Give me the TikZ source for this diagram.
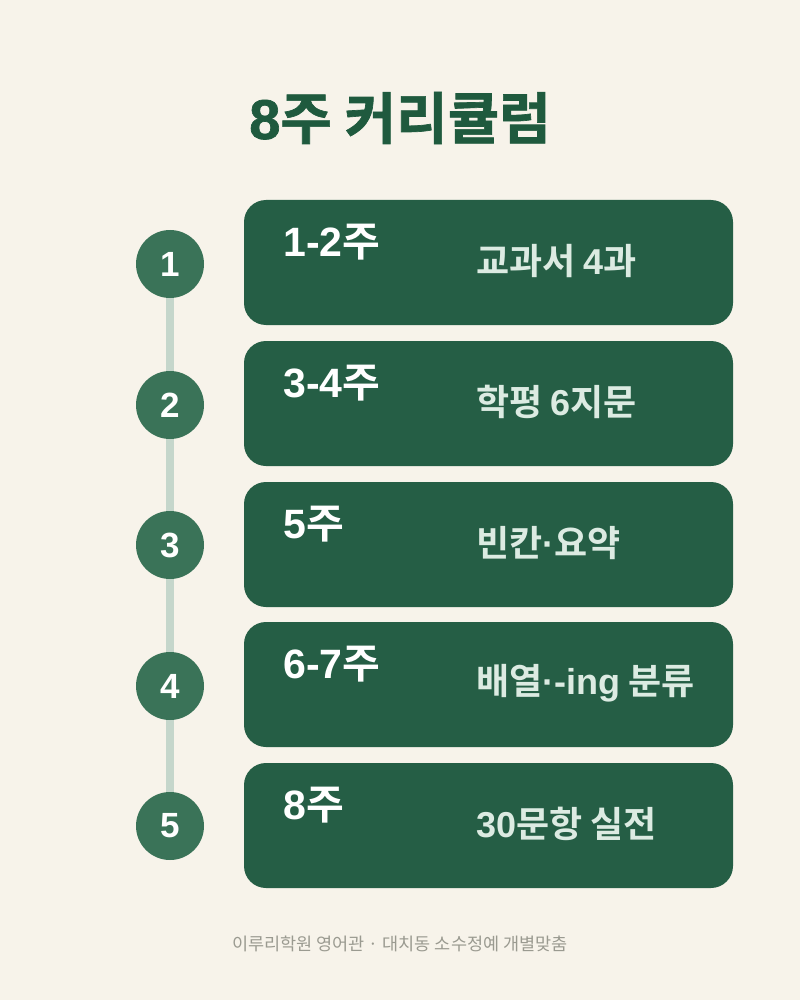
\documentclass[tikz,border=0pt]{standalone}
\usepackage{fontspec}
\newfontfamily\kr{Noto Sans CJK KR}
\newfontfamily\krb{Noto Sans CJK KR Bold}
\newfontfamily\krh[FakeBold=1.2]{Noto Sans CJK KR Bold}
\newfontfamily\lat{Liberation Sans Bold}
\newfontfamily\lath[FakeBold=1.2]{Liberation Sans Bold}
\definecolor{bg}{HTML}{F7F3EA}
\definecolor{card}{HTML}{255E45}
\definecolor{circ}{HTML}{3A7358}
\definecolor{ttl}{HTML}{1F5A3E}
\definecolor{subj}{HTML}{DCEBE2}
\definecolor{rail}{HTML}{C5D6CB}
\definecolor{foot}{HTML}{9A9A90}
\tikzset{
  cardbox/.style={fill=card, rounded corners=22pt, minimum width=489pt, minimum height=125pt, inner sep=0pt},
  numdot/.style={circle, fill=circ, minimum size=68pt, inner sep=0pt, text=white, font=\lat\fontsize{35}{35}\selectfont},
  weektxt/.style={anchor=west, text=white, font=\krb\fontsize{41}{41}\selectfont, inner sep=0pt},
  subjtxt/.style={anchor=west, text=subj, font=\krb\fontsize{36}{36}\selectfont, inner sep=0pt},
}
\begin{document}
\begin{tikzpicture}[x=1pt,y=-1pt]
\useasboundingbox (0,0) rectangle (800,1000);
\fill[bg] (0,0) rectangle (800,1000);
\node[text=ttl, font=\krh\fontsize{56}{56}\selectfont] (title) at (400,118) {{\lath 8}주 커리큘럼};
% cards
\node[cardbox] (c1) at (488.5,262.5) {};
\node[cardbox] (c2) at (488.5,403.5) {};
\node[cardbox] (c3) at (488.5,544.5) {};
\node[cardbox] (c4) at (488.5,684.5) {};
\node[cardbox] (c5) at (488.5,825.5) {};
% rail
\coordinate (r1) at (170,264);
\coordinate (r5) at (170,826);
\draw[rail, line width=8pt] (r1) -- (r5);
\node[numdot] (n1) at (170,264) {1};
\node[numdot] (n2) at (170,405) {2};
\node[numdot] (n3) at (170,545) {3};
\node[numdot] (n4) at (170,686) {4};
\node[numdot] (n5) at (170,826) {5};
% texts
\node[weektxt] (w1) at (283,242) {{\lat 1-2}주};
\node[weektxt] (w2) at (283,383) {{\lat 3-4}주};
\node[weektxt] (w3) at (283,524) {{\lat 5}주};
\node[weektxt] (w4) at (283,664) {{\lat 6-7}주};
\node[weektxt] (w5) at (283,805) {{\lat 8}주};
\node[subjtxt] (s1) at (476,261) {교과서 {\lat 4}과};
\node[subjtxt] (s2) at (476,402) {학평 {\lat 6}지문};
\node[subjtxt] (s3) at (476,543) {빈칸{\lat ·}요약};
\node[subjtxt] (s4) at (476,683) {배열{\lat ·-ing} 분류};
\node[subjtxt] (s5) at (476,824) {{\lat 30}문항 실전};
\node[text=foot, font=\kr\fontsize{17.5}{17.5}\selectfont] (ft) at (400,944) {이루리학원 영어관 · 대치동 소수정예 개별맞춤};
\end{tikzpicture}
\end{document}
